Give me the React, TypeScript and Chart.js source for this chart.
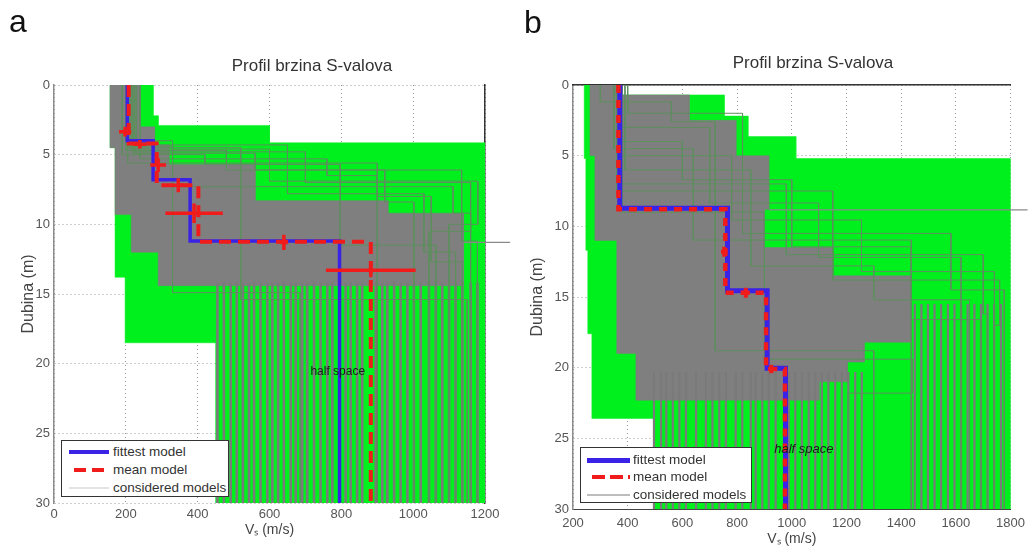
import React, { useEffect, useRef } from 'react';
import { Chart, registerables } from 'chart.js';

Chart.register(...registerables);

const FONT = "'Liberation Sans', Arial, Helvetica, sans-serif";
const GREEN = '#00f01e';
const GRAY = '#7f7f7f';
const THIN = '#5e8f5e';
const BLUE = '#3a22e6';
const RED = '#f01c1c';

// ---------- shared depth axis ----------
const depthTicks = [0, 5, 10, 15, 20, 25, 30];
const depthTop = 0;
const depthBase = 30;

// ---------- panel a ----------
const aVsTicks = [0, 200, 400, 600, 800, 1000, 1200];
const aFittestVs = [204, 276, 379, 795];
const aFittestBot = [4.0, 6.8, 11.2];
const aMeanVs = [208, 286, 402, 882];
const aMeanBot = [4.2, 7.2, 11.25];
const aErrVs = [198, 239, 290, 346, 390, 640, 882];
const aErrDepth = [3.35, 4.25, 5.75, 7.2, 9.2, 11.3, 13.3];
const aErrVsDev = [17, 18, 22, 15, 80, 10, 125];
const aErrDepthDev = [0.35, 0.3, 0.5, 0.5, 0.7, 0.55, 0.5];
const aEnvRightVs = [276, 290, 600, 1200];
const aEnvRightBot = [2.2, 2.9, 4.15];
const aEnvLeftVs = [156, 170, 198, 450];
const aEnvLeftBot = [4.5, 13.8, 18.5];
const aCoreRightVs = [240, 280, 320, 560, 930, 1140];
const aCoreRightBot = [3.0, 4.3, 5.7, 8.3, 9.2];
const aCoreLeftVs = [156, 170, 215, 290];
const aCoreLeftBot = [4.5, 9.3, 12.0];
const aCoreBase = 14.4;
const aHalfSpaceVs = [455, 473, 492, 509, 526, 543, 557, 575, 594, 608, 624, 640, 659, 673, 691, 705, 724, 742, 761, 775, 812, 826, 844, 858, 896, 914, 928, 947, 965, 984, 1002, 1021, 1044, 1063, 1081, 1100, 1118, 1137, 1160, 1179];
const aHalfSpaceTop = 14.2;
const aModelVs = [
  [210, 330, 1111, 1160],
  [220, 560, 1135, 1179],
  [190, 420, 797, 1063],
  [200, 480, 921, 1002],
  [230, 650, 1030, 1118],
  [210, 330, 685],
  [205, 520, 1150],
  [240, 760, 900],
  [215, 600, 1180, 1100],
  [225, 700, 1160, 1044],
  [205, 900, 1050, 1137],
];
const aModelBot = [
  [4.4, 7.3, 9.2],
  [4.9, 6.1, 11.2],
  [5.0, 5.7, 11.5],
  [4.7, 6.1, 8.4],
  [4.3, 7.8, 12.0],
  [4.0, 14.9],
  [4.5, 15.4],
  [5.3, 6.5],
  [4.6, 6.9, 10.0],
  [4.8, 7.0, 10.5],
  [5.6, 8.0, 12.7],
];
const aOutsideVs = [1140, 1270];
const aOutsideDepth = 11.3;
const aHalfLabel = { text: 'half space', vs: 790, depth: 20.6 };

// ---------- panel b ----------
const bVsTicks = [200, 400, 600, 800, 1000, 1200, 1400, 1600, 1800];
const bFittestVs = [371, 765, 910, 977];
const bFittestBot = [8.72, 14.55, 20.05];
const bMeanVs = [366, 757, 906, 975];
const bMeanBot = [8.8, 14.7, 20.1];
const bErrVs = [753, 832, 925];
const bErrDepth = [11.8, 14.7, 20.1];
const bErrVsDev = [12, 15, 12];
const bErrDepthDev = [0.35, 0.35, 0.3];
const bEnvRightVs = [360, 753, 840, 1015, 1800];
const bEnvRightBot = [0.7, 2.2, 3.65, 5.2];
const bEnvLeftVs = [241, 247, 254, 269, 496];
const bEnvLeftBot = [5.2, 11.7, 17.6, 23.6];
const bCoreRightVs = [356, 625, 796, 916, 900, 1150, 1436, 1265, 1203, 1100];
const bCoreRightBot = [0.7, 2.5, 5.0, 8.8, 11.5, 13.5, 18.2, 19.6, 21.0];
const bCoreLeftVs = [262, 280, 360, 430];
const bCoreLeftBot = [5.0, 11.0, 19.0];
const bCoreBase = 22.3;
const bHalfSpaceDeepVs = [496, 522, 541, 565, 589, 613, 650, 686, 710, 735, 759, 795, 819, 850, 868, 892, 916, 941, 989, 1013, 1037, 1062, 1086, 1110, 1134, 1159, 1183, 1207, 1232, 1256];
const bHalfSpaceDeepTop = 20.3;
const bHalfSpaceHighVs = [1450, 1474, 1498, 1522, 1546, 1571, 1595, 1619, 1643, 1668, 1692, 1716, 1740, 1765];
const bHalfSpaceHighTop = 15.5;
const bModelVs = [
  [370, 600, 1000, 1437],
  [380, 700, 1098, 1619],
  [360, 780, 1255, 1741],
  [400, 820, 1582, 1777],
  [350, 640, 1437, 1692],
  [300, 560, 720, 1300],
  [380, 900, 1440, 1207],
  [390, 850, 1300, 1650],
  [370, 980, 1700, 1716],
  [360, 1150, 1760, 1740],
];
const bModelBot = [
  [4.0, 6.7, 11.45],
  [3.0, 8.35, 12.2],
  [5.0, 9.55, 13.2],
  [2.0, 10.5, 14.5],
  [4.5, 10.97, 16.6],
  [1.2, 2.6, 18.8],
  [9.0, 19.4, 21.8],
  [6.0, 12.8, 15.2],
  [7.0, 12.0, 16.2],
  [7.5, 13.8, 17.0],
];
const bOutsideVs = [916, 1862];
const bOutsideDepth = 8.84;
const bHalfLabel = { text: 'half space', vs: 1044, depth: 25.75 };

type Pt = { x: number; y: number | null };

function stepProfile(vs: number[], bots: number[], top: number, base: number): Pt[] {
  const pts: Pt[] = [];
  let z = top;
  for (let i = 0; i < vs.length; i++) {
    const zb = i < bots.length ? bots[i] : base;
    pts.push({ x: vs[i], y: z }, { x: vs[i], y: zb });
    z = zb;
  }
  return pts;
}

function polygon(rv: number[], rb: number[], lv: number[], lb: number[], top: number, base: number): Pt[] {
  return [...stepProfile(rv, rb, top, base), ...stepProfile(lv, lb, top, base).reverse()];
}

function verticals(vs: number[], top: number, base: number): Pt[] {
  return vs.flatMap((v) => [{ x: v, y: top }, { x: v, y: base }, { x: v, y: null }]);
}

function crosses(vs: number[], ds: number[], evs: number[], eds: number[]): Pt[] {
  return vs.flatMap((v, i) => [
    { x: v - evs[i], y: ds[i] },
    { x: v + evs[i], y: ds[i] },
    { x: v + evs[i], y: null },
    { x: v, y: ds[i] - eds[i] },
    { x: v, y: ds[i] + eds[i] },
    { x: v, y: null },
  ]);
}

function models(vsList: number[][], botList: number[][], base: number): Pt[] {
  return vsList.flatMap((vs, i) => [
    ...stepProfile(vs, botList[i], depthTop, base),
    { x: vs[vs.length - 1], y: null },
  ]);
}

const labelPlugin = {
  id: 'halfSpaceLabel',
  afterDatasetsDraw(chart: any, _args: any, opts: any) {
    const { ctx, scales } = chart;
    const x = scales.x.getPixelForValue(opts.vs);
    const y = scales.y.getPixelForValue(opts.depth);
    ctx.save();
    ctx.font = opts.font;
    ctx.fillStyle = '#1a1a1a';
    ctx.textAlign = 'center';
    ctx.textBaseline = 'middle';
    ctx.fillText(opts.text, x, y);
    ctx.restore();
  },
};

function makeConfig(s: any): any {
  const common = {
    showLine: true,
    pointRadius: 0,
    pointHoverRadius: 0,
    fill: false,
    tension: 0,
    borderJoinStyle: 'miter',
    borderCapStyle: 'butt',
    spanGaps: false,
  };
  const datasets = [
    { label: 'envelope', data: s.envelope, fill: 'shape', backgroundColor: GREEN, borderColor: GREEN, borderWidth: 0.5, order: 20 },
    { label: 'core', data: s.core, fill: 'shape', backgroundColor: GRAY, borderColor: GRAY, borderWidth: 0.5, order: 19 },
    { label: 'halfspace', data: s.stripes, borderColor: '#7a7a7a', borderWidth: s.stripeW, order: 18 },
    { label: 'considered models', data: s.models, borderColor: THIN, borderWidth: 1, order: 17 },
    { label: 'outside', data: s.outside, borderColor: '#8a8a8a', borderWidth: 1.3, clip: false, order: 16 },
    { label: 'fittest model', data: s.fittest, borderColor: BLUE, borderWidth: s.blueW, order: 3 },
    { label: 'mean model', data: s.mean, borderColor: RED, borderWidth: s.redW, borderDash: s.dash, order: 2 },
    { label: 'mean errors', data: s.errors, borderColor: RED, borderWidth: s.errW, order: 1 },
  ].map((d) => ({ ...common, ...d }));

  const tickFont = { family: FONT, size: 13 };
  return {
    type: 'scatter',
    data: { datasets },
    plugins: [labelPlugin],
    options: {
      animation: false,
      responsive: false,
      devicePixelRatio: 1,
      events: [],
      layout: { padding: s.pad },
      plugins: {
        legend: { display: false },
        title: { display: false },
        tooltip: { enabled: false },
        halfSpaceLabel: s.label,
      },
      scales: {
        x: {
          type: 'linear',
          position: 'bottom',
          min: s.vsTicks[0],
          max: s.vsTicks[s.vsTicks.length - 1],
          afterBuildTicks: (sc: any) => { sc.ticks = s.vsTicks.map((v: number) => ({ value: v })); },
          afterFit: (sc: any) => { sc.height = s.xAxisH; },
          ticks: { callback: (v: any) => String(v), font: tickFont, color: '#555', padding: s.xTickPad, maxRotation: 0, autoSkip: false },
          grid: { color: '#9a9a9a', drawTicks: false, lineWidth: 1 },
          border: { display: s.bottomBorder, color: '#444', width: 1, dash: [1, 3] },
          title: { display: true, text: 'Vₛ (m/s)', font: { family: FONT, size: 14 }, color: '#444', padding: { top: 0, bottom: s.xTitlePad } },
        },
        y: {
          type: 'linear',
          position: 'left',
          reverse: true,
          min: depthTop,
          max: depthBase,
          afterBuildTicks: (sc: any) => { sc.ticks = depthTicks.map((v) => ({ value: v })); },
          afterFit: (sc: any) => { sc.width = s.yAxisW; },
          ticks: { callback: (v: any) => String(v), font: tickFont, color: '#555', padding: 4 },
          grid: { color: '#9a9a9a', drawTicks: false, lineWidth: 1 },
          border: { display: true, color: '#8c8c8c', width: 1.5, dash: [1, 3] },
          title: { display: true, text: 'Dubina (m)', font: { family: FONT, size: 16 }, color: '#444', padding: { top: 4, bottom: 0 } },
        },
        x2: {
          type: 'linear',
          position: 'top',
          display: true,
          min: s.vsTicks[0],
          max: s.vsTicks[s.vsTicks.length - 1],
          afterFit: (sc: any) => { sc.height = 0; },
          ticks: { display: false },
          grid: { display: false, drawTicks: false },
          border: { display: s.topBorder, color: '#333', width: 1.5 },
        },
        y2: {
          type: 'linear',
          position: 'right',
          display: true,
          min: depthTop,
          max: depthBase,
          afterFit: (sc: any) => { sc.width = 0; },
          ticks: { display: false },
          grid: { display: false, drawTicks: false },
          border: { display: s.rightBorder, color: '#333', width: 1.5 },
        },
      },
    },
  };
}

const specA = {
  vsTicks: aVsTicks,
  envelope: polygon(aEnvRightVs, aEnvRightBot, aEnvLeftVs, aEnvLeftBot, depthTop, depthBase),
  core: polygon(aCoreRightVs, aCoreRightBot, aCoreLeftVs, aCoreLeftBot, depthTop, aCoreBase),
  stripes: verticals(aHalfSpaceVs, aHalfSpaceTop, depthBase),
  models: models(aModelVs, aModelBot, depthBase),
  outside: aOutsideVs.map((v) => ({ x: v, y: aOutsideDepth })),
  fittest: stepProfile(aFittestVs, aFittestBot, depthTop, depthBase),
  mean: stepProfile(aMeanVs, aMeanBot, depthTop, depthBase),
  errors: crosses(aErrVs, aErrDepth, aErrVsDev, aErrDepthDev),
  label: { ...aHalfLabel, font: `12px ${FONT}` },
  stripeW: 2.6,
  blueW: 3.5,
  redW: 4,
  errW: 3.5,
  dash: [12, 7],
  pad: { left: 15, right: 31, top: 85, bottom: 8 },
  yAxisW: 39,
  xAxisH: 40,
  xTickPad: 4,
  xTitlePad: 4,
  bottomBorder: false,
  topBorder: false,
  rightBorder: true,
};

const specB = {
  vsTicks: bVsTicks,
  envelope: polygon(bEnvRightVs, bEnvRightBot, bEnvLeftVs, bEnvLeftBot, depthTop, depthBase),
  core: polygon(bCoreRightVs, bCoreRightBot, bCoreLeftVs, bCoreLeftBot, depthTop, bCoreBase),
  stripes: [...verticals(bHalfSpaceDeepVs, bHalfSpaceDeepTop, depthBase), ...verticals(bHalfSpaceHighVs, bHalfSpaceHighTop, depthBase)],
  models: models(bModelVs, bModelBot, depthBase),
  outside: bOutsideVs.map((v) => ({ x: v, y: bOutsideDepth })),
  fittest: stepProfile(bFittestVs, bFittestBot, depthTop, depthBase),
  mean: stepProfile(bMeanVs, bMeanBot, depthTop, depthBase),
  errors: crosses(bErrVs, bErrDepth, bErrVsDev, bErrDepthDev),
  label: { ...bHalfLabel, font: `italic 13px ${FONT}` },
  stripeW: 2.2,
  blueW: 5,
  redW: 4.5,
  errW: 4,
  dash: [8, 7],
  pad: { left: 8, right: 19, top: 85, bottom: 1 },
  yAxisW: 49,
  xAxisH: 41,
  xTickPad: 7,
  xTitlePad: 2,
  bottomBorder: true,
  topBorder: true,
  rightBorder: false,
};

function Panel({ spec, left }: { spec: any; left: number }) {
  const ref = useRef<HTMLCanvasElement>(null);
  useEffect(() => {
    const chart = new Chart(ref.current as HTMLCanvasElement, makeConfig(spec));
    return () => chart.destroy();
  }, []);
  return (
    <canvas
      ref={ref}
      width={516}
      height={551}
      style={{ position: 'absolute', left, top: 0, width: 516, height: 551 }}
    />
  );
}

const abs = (style: any) => ({ position: 'absolute' as const, ...style });

function LegendBox({ x, y, w, h, rows, sx, ex, tx, blueW, dash, grayColor }: any) {
  const [r1, r2, r3] = rows;
  return (
    <>
      <div style={abs({ left: x, top: y, width: w, height: h, background: '#fff', border: '1px solid #333', boxSizing: 'border-box' })} />
      <div style={abs({ left: sx, top: r1 - blueW / 2, width: ex - sx, height: blueW, background: BLUE })} />
      <div style={abs({ left: sx + 5, top: r2 - 2, width: ex - sx - 5, height: 4, background: `repeating-linear-gradient(to right, ${RED} 0 ${dash[0]}px, transparent ${dash[0]}px ${dash[0] + dash[1]}px)` })} />
      <div style={abs({ left: sx, top: r3 - 1, width: ex - sx, height: 2, background: grayColor })} />
      {['fittest model', 'mean model', 'considered models'].map((t, i) => (
        <div key={t} style={abs({ left: tx, top: rows[i] - 9, height: 18, lineHeight: '18px', fontSize: 13.5, color: '#333', whiteSpace: 'nowrap' })}>
          {t}
        </div>
      ))}
    </>
  );
}

export default function App() {
  return (
    <div style={{ position: 'absolute', left: 0, top: 0, width: 1032, height: 551, background: '#fff', fontFamily: FONT, overflow: 'hidden' }}>
      <Panel spec={specA} left={0} />
      <Panel spec={specB} left={516} />
      <div style={abs({ left: 9, top: 5, fontSize: 32, lineHeight: '32px', color: '#111' })}>a</div>
      <div style={abs({ left: 524, top: 6, fontSize: 32, lineHeight: '32px', color: '#111' })}>b</div>
      <div style={abs({ left: 162, top: 56, width: 300, textAlign: 'center', fontSize: 17, lineHeight: '20px', color: '#333' })}>Profil brzina S-valova</div>
      <div style={abs({ left: 663, top: 53, width: 300, textAlign: 'center', fontSize: 17, lineHeight: '20px', color: '#333' })}>Profil brzina S-valova</div>
      <LegendBox x={61} y={440} w={168} h={57} rows={[452, 470, 488]} sx={69} ex={109} tx={113} blueW={3.5} dash={[12, 6]} grayColor="#e4e4e4" />
      <LegendBox x={580} y={447} w={172} h={56} rows={[460, 477, 495]} sx={587} ex={630} tx={633} blueW={5} dash={[13, 5]} grayColor="#bdbdbd" />
    </div>
  );
}
